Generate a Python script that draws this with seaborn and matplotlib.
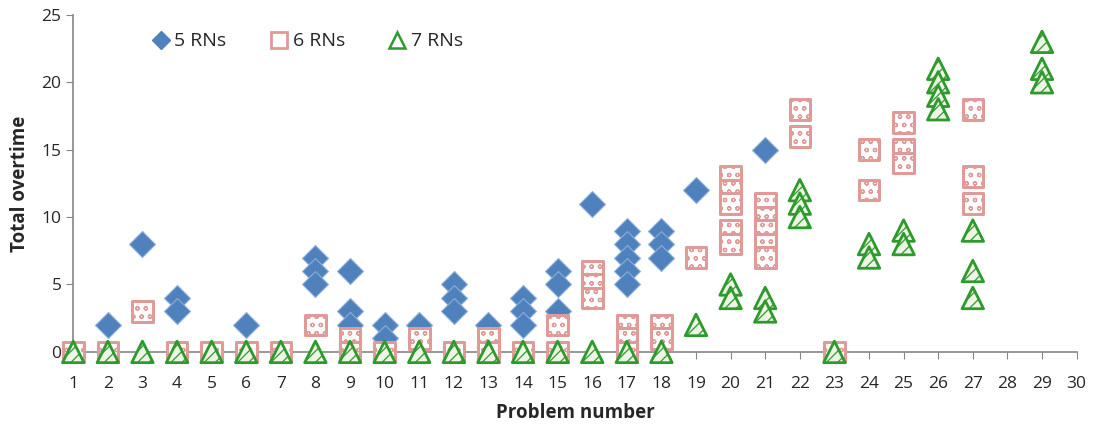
import numpy as np
import pandas as pd
import matplotlib
matplotlib.use("Agg")
import matplotlib.pyplot as plt
from matplotlib.lines import Line2D
import seaborn as sns

# 5 RNs
rn5_problem = [2, 3, 4, 4, 6, 8, 8, 8, 9, 9, 9, 10, 10, 11, 12, 12, 12, 13,
               14, 14, 14, 15, 15, 15, 16, 17, 17, 17, 17, 17, 18, 18, 18, 19, 21]
rn5_overtime = [2, 8, 4, 3, 2, 7, 6, 5, 6, 3, 2, 2, 1, 2, 5, 4, 3, 2,
                4, 3, 2, 6, 5, 3, 11, 9, 8, 7, 6, 5, 9, 8, 7, 12, 15]

# 6 RNs
rn6_problem = [1, 2, 3, 4, 5, 6, 7, 8, 9, 9, 10, 11, 12, 13, 13, 14, 15, 15,
               16, 16, 16, 17, 17, 17, 18, 18, 19, 20, 20, 20, 20, 20,
               21, 21, 21, 21, 21, 22, 22, 23, 24, 24, 25, 25, 25, 27, 27, 27]
rn6_overtime = [0, 0, 3, 0, 0, 0, 0, 2, 1, 0, 0, 1, 0, 1, 0, 0, 2, 0,
                6, 5, 4, 2, 1, 0, 2, 1, 7, 13, 12, 11, 9, 8,
                11, 10, 9, 8, 7, 18, 16, 0, 15, 12, 17, 15, 14, 18, 13, 11]

# 7 RNs
rn7_problem = [1, 2, 3, 4, 5, 6, 7, 8, 9, 10, 11, 12, 13, 14, 15, 16, 17, 18,
               19, 20, 20, 21, 21, 22, 22, 22, 23, 24, 24, 25, 25,
               26, 26, 26, 26, 27, 27, 27, 29, 29, 29]
rn7_overtime = [0] * 18 + [2, 5, 4, 4, 3, 12, 11, 10, 0, 8, 7, 9, 8,
                           21, 20, 19, 18, 9, 6, 4, 23, 21, 20]

x_ticks = list(range(1, 31))
y_ticks = [0, 5, 10, 15, 20, 25]

df = pd.concat([
    pd.DataFrame({"problem": rn5_problem, "overtime": rn5_overtime, "series": "5 RNs"}),
    pd.DataFrame({"problem": rn6_problem, "overtime": rn6_overtime, "series": "6 RNs"}),
    pd.DataFrame({"problem": rn7_problem, "overtime": rn7_overtime, "series": "7 RNs"}),
])

sns.set_style("white")
plt.rcParams['font.family'] = ['Open Sans', 'DejaVu Sans']
plt.rcParams['hatch.linewidth'] = 0.9

fig = plt.figure(figsize=(10.93, 4.25), dpi=100)
ax = fig.add_axes([0.067, 0.172, 0.918, 0.793])

blue = "#4F81BD"
red_edge = "#E09A98"
green_edge = "#2E9A2E"

sns.scatterplot(data=df[df.series == "5 RNs"], x="problem", y="overtime", ax=ax,
                marker="D", s=175, color=blue, edgecolor="#8DB0DA", linewidth=0.8,
                zorder=3, clip_on=False)
sns.scatterplot(data=df[df.series == "6 RNs"], x="problem", y="overtime", ax=ax,
                marker="s", s=220, facecolor="white", edgecolor=red_edge,
                linewidth=2.2, hatch="oo", zorder=4, clip_on=False)
sns.scatterplot(data=df[df.series == "7 RNs"], x="problem", y="overtime", ax=ax,
                marker="^", s=240, facecolor="#EEF5E4", edgecolor=green_edge,
                linewidth=2.0, hatch="///", zorder=5, clip_on=False)

ax.set_xlim(1, 30)
ax.set_ylim(0, 25)
ax.set_xticks(x_ticks)
ax.set_yticks(y_ticks)
ax.tick_params(axis="both", labelsize=12.5, length=5, color="#868686", direction="out",
               bottom=True, left=True)
ax.tick_params(axis="x", pad=12)
for side in ["top", "right"]:
    ax.spines[side].set_visible(False)
for side in ["left", "bottom"]:
    ax.spines[side].set_color("#868686")
    ax.spines[side].set_linewidth(1.2)

ax.set_xlabel("Problem number", fontsize=13.5, fontweight="bold", labelpad=8)
ax.set_ylabel("Total overtime", fontsize=13.5, fontweight="bold", labelpad=8)

handles = [
    Line2D([], [], marker="D", linestyle="", markersize=9, color=blue),
    Line2D([], [], marker="s", linestyle="", markersize=12, markerfacecolor="white",
           markeredgecolor=red_edge, markeredgewidth=2),
    Line2D([], [], marker="^", linestyle="", markersize=12, markerfacecolor="white",
           markeredgecolor=green_edge, markeredgewidth=1.8),
]
ax.legend(handles, ["5 RNs", "6 RNs", "7 RNs"], loc="upper left",
          bbox_to_anchor=(0.06, 1.0), ncol=3, frameon=False, fontsize=14,
          handletextpad=0.2, columnspacing=2.2, handlelength=1.0)

fig.savefig("out.png", dpi=100)
